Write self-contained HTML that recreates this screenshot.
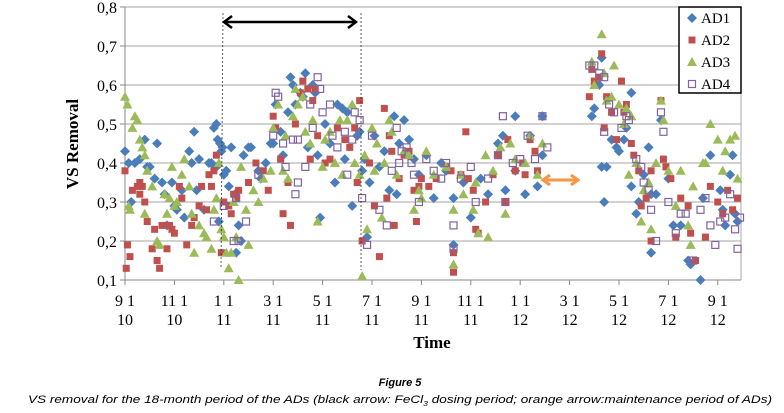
<!DOCTYPE html>
<html><head><meta charset="utf-8"><style>
html,body{margin:0;padding:0;background:#fff;}
svg{display:block;}
</style></head><body>
<svg id="chart" width="784" height="413" viewBox="0 0 784 413" xmlns="http://www.w3.org/2000/svg" font-family="'Liberation Serif', serif">
<g id="grid"></g>
<g id="axes"></g>
<g id="marks"></g>
<g>
<line x1="223" y1="13" x2="221" y2="268" stroke="#333" stroke-width="0.8" stroke-dasharray="2,2"/>
<line x1="361" y1="13" x2="361" y2="270" stroke="#333" stroke-width="0.8" stroke-dasharray="2,2"/>
<line x1="226" y1="22" x2="354" y2="22" stroke="#000" stroke-width="2.5"/>
<polyline points="232,16 224,22 232,28" fill="none" stroke="#000" stroke-width="2.5"/>
<polyline points="348,16 356,22 348,28" fill="none" stroke="#000" stroke-width="2.5"/>
</g>
<g>
<line x1="545" y1="180" x2="576" y2="180" stroke="#f79646" stroke-width="3"/>
<polyline points="550,175 543,180 550,185" fill="none" stroke="#f79646" stroke-width="3"/>
<polyline points="571,175 578,180 571,185" fill="none" stroke="#f79646" stroke-width="3"/>
</g>
<g id="legend">
<rect x="679" y="7" width="62" height="86" fill="#fff" stroke="#000" stroke-width="1.5"/>
</g>
<text transform="translate(78,144) rotate(-90)" text-anchor="middle" font-weight="bold" font-size="17">VS Removal</text>
<text x="432" y="348" text-anchor="middle" font-weight="bold" font-size="17">Time</text>
<text x="400" y="386" text-anchor="middle" font-family="'Liberation Sans', sans-serif" font-style="italic" font-weight="bold" font-size="11">Figure 5</text>
<text x="400" y="403" text-anchor="middle" font-family="'Liberation Sans', sans-serif" font-style="italic" font-size="11" textLength="744" lengthAdjust="spacingAndGlyphs">VS removal for the 18-month period of the ADs (black arrow: FeCl<tspan font-size="7" dy="3">3</tspan><tspan dy="-3"> dosing period; orange arrow:maintenance period of ADs)</tspan></text>
</svg>
<script>
const yTicks=[0.1,0.2,0.3,0.4,0.5,0.6,0.7,0.8];
const yTickLabels=["0,1","0,2","0,3","0,4","0,5","0,6","0,7","0,8"];
const xTicks=[0,2,4,6,8,10,12,14,16,18,20,22,24];
const xTickTop=["9 1","11 1","1 1","3 1","5 1","7 1","9 1","11 1","1 1","3 1","5 1","7 1","9 1"];
const xTickBottom=["10","10","11","11","11","11","11","11","12","12","12","12","12"];
const seriesNames=["AD1","AD2","AD3","AD4"];
const ad1=[[0.0,.43],[0.15,.40],[0.25,.30],[0.4,.40],[0.6,.41],[0.8,.46],[0.9,.39],[1.0,.39],[1.3,.45],[1.2,.36],[1.5,.35],[1.6,.32],[1.7,.24],[1.9,.35],[2.1,.28],[2.0,.29],[2.3,.33],[2.4,.26],[2.6,.43],[2.7,.40],[2.8,.48],[2.9,.33],[3.0,.41],[3.2,.28],[3.4,.40],[3.5,.40],[3.7,.39],[3.8,.25],[3.9,.43],[3.6,.49],[3.7,.50],[3.75,.46],[3.85,.45],[3.95,.44],[4.0,.37],[4.1,.38],[4.2,.34],
[4.3,.44],[4.45,.32],[4.5,.17],[4.6,.24],[4.7,.20],[4.8,.42],[5.0,.44],[5.1,.44],[5.4,.38],[5.5,.36],[5.7,.40],[5.9,.45],[6.1,.55],[6.0,.45],[6.3,.48],[6.4,.42],[6.6,.53],[6.7,.62],[6.8,.60],[6.9,.55],[7.1,.58],[7.3,.63],[7.2,.57],[7.4,.44],[7.6,.60],[7.7,.58],[7.9,.26],[7.8,.42],[8.1,.50],[8.3,.45],[8.6,.55],[8.8,.54],[8.5,.35],[8.9,.41],[9.0,.53],[9.2,.29],[9.4,.47],[9.5,.48],[9.6,.38],
[9.7,.41],[9.8,.21],[9.9,.35],[10.1,.47],[10.3,.39],[10.9,.52],[10.7,.33],[11.0,.32],[11.3,.51],[11.5,.46],[11.7,.41],[11.9,.37],[10.5,.43],[11.1,.45],
[12.2,.42],[12.5,.31],[13.3,.31],[13.3,.19],[13.7,.35],[14.0,.26],[14.7,.32],[15.1,.45],[15.3,.47],[15.4,.33],[15.8,.52],[15.8,.38],[16.2,.32],[16.4,.47],[16.7,.34],[16.9,.52],[16.9,.42],[12.8,.40],[13.0,.38],[14.4,.36],
[18.9,.52],[19.0,.54],[19.2,.60],[19.3,.67],[19.3,.39],[19.4,.30],[19.5,.39],[19.7,.46],[19.9,.44],[20.0,.43],[20.2,.46],[20.3,.49],[20.5,.58],[20.5,.34],[20.7,.27],[20.8,.30],[21.0,.37],[21.2,.44],[21.3,.32],[21.5,.32],[21.3,.17],[21.7,.51],[22.0,.36],[22.2,.24],[22.5,.24],[22.8,.15],[22.9,.14],[23.3,.10],[23.4,.31],[23.7,.42],[24.1,.33],[24.2,.28],[24.3,.24],[24.5,.37],[24.6,.42],[24.7,.27],[24.8,.25]];
const ad2=[[0.0,.38],[0.05,.13],[0.1,.19],[0.2,.16],[0.3,.33],[0.5,.34],[0.6,.35],[0.6,.32],[0.7,.34],[0.8,.30],[0.9,.25],[1.1,.18],[1.2,.23],[1.3,.15],[1.4,.13],[1.5,.24],[1.7,.18],[1.8,.24],[1.9,.23],[2.0,.22],[2.2,.34],[2.3,.31],[2.5,.19],[2.7,.24],[2.8,.26],[3.0,.29],[3.1,.34],[3.3,.28],[3.4,.37],[3.5,.34],[3.6,.38],[3.7,.42],[3.9,.17],[4.0,.30],
[4.2,.29],[4.3,.27],[4.4,.32],[4.5,.31],[4.6,.33],[5.0,.35],[5.3,.40],[5.6,.38],[5.8,.33],[6.0,.52],[6.1,.49],[6.3,.41],[6.4,.27],[6.6,.35],[6.7,.24],[6.9,.50],[7.1,.58],[7.2,.61],[7.4,.59],[7.5,.41],[7.6,.56],[7.7,.59],[7.8,.47],[8.1,.40],[8.3,.41],[8.6,.49],[8.9,.46],[9.1,.44],[9.3,.49],[9.5,.56],[9.4,.35],[9.6,.20],
[9.9,.40],[10.1,.29],[10.3,.16],[10.5,.54],[10.7,.47],[10.8,.43],[10.9,.24],[11.1,.36],[11.3,.42],[11.5,.43],[11.7,.33],[11.8,.25],[11.9,.34],[10.6,.31],
[12.0,.36],[12.3,.34],[12.6,.36],[13.0,.39],[13.2,.38],[13.3,.17],[13.3,.12],[13.6,.37],[13.9,.36],[14.1,.33],[14.2,.23],[14.3,.22],[14.6,.30],[14.9,.37],[15.1,.42],[15.4,.30],[15.5,.46],[15.8,.38],[16.1,.40],[16.2,.37],[16.4,.46],[16.7,.38],[13.8,.48],[16.6,.43],
[18.8,.57],[18.9,.64],[19.0,.61],[19.2,.62],[19.3,.68],[19.4,.49],[19.5,.57],[19.7,.53],[19.9,.46],[20.1,.61],[20.2,.53],[20.3,.55],[20.5,.45],[20.6,.42],[20.8,.38],[20.9,.29],[21.1,.31],[21.3,.38],[21.3,.20],[21.7,.56],[21.8,.41],[21.9,.39],[22.1,.36],[22.3,.21],[22.5,.31],[22.8,.29],[22.9,.22],[23.1,.15],[23.5,.21],[23.7,.34],[24.0,.30],[24.2,.27],[24.4,.33],[24.6,.28],[24.8,.31]];
const ad3=[[0.0,.57],[0.1,.55],[0.15,.29],[0.2,.28],[0.3,.49],[0.4,.52],[0.5,.51],[0.6,.46],[0.7,.44],[0.8,.27],[0.8,.42],[0.9,.38],[1.1,.34],[1.3,.20],[1.4,.19],[1.6,.32],[1.7,.27],[1.8,.31],[1.9,.39],[2.0,.29],[2.1,.30],[2.3,.37],[2.4,.41],[2.6,.34],[2.7,.27],[2.8,.17],[3.0,.24],[3.2,.22],[3.3,.21],[3.5,.18],[3.6,.28],[3.7,.31],[3.8,.40],[3.9,.23],[4.0,.21],[4.1,.17],
[4.2,.13],[4.3,.17],[4.4,.30],[4.5,.21],[4.6,.10],[4.7,.39],[4.9,.28],[5.0,.19],[5.2,.33],[5.4,.30],[5.6,.36],[5.9,.38],[6.0,.49],[6.2,.55],[6.4,.38],[6.5,.47],[6.6,.36],[6.8,.52],[6.9,.59],[7.0,.55],[7.2,.57],[7.3,.48],[7.5,.45],[7.6,.51],[7.8,.25],[8.0,.39],[8.1,.46],[8.3,.48],[8.5,.40],[8.7,.51],[8.8,.37],[9.0,.51],[9.2,.55],[9.3,.40],[9.5,.37],[9.6,.11],
[9.7,.42],[9.8,.23],[10.0,.49],[10.1,.38],[10.2,.45],[10.4,.26],[10.7,.51],[10.8,.48],[11.0,.37],[11.3,.43],[11.5,.42],[11.7,.28],[11.9,.33],[10.5,.40],
[12.0,.31],[12.2,.43],[12.5,.37],[13.0,.39],[13.3,.14],[13.3,.28],[13.6,.37],[13.7,.32],[14.1,.28],[14.2,.35],[14.3,.22],[14.6,.42],[14.7,.21],[14.9,.38],[15.2,.44],[15.4,.27],[15.6,.45],[15.8,.41],[16.2,.40],[16.4,.47],[16.7,.37],[16.9,.45],
[18.9,.66],[19.0,.60],[19.3,.73],[19.4,.63],[19.5,.56],[19.7,.57],[19.8,.65],[20.0,.55],[20.2,.50],[20.3,.54],[20.5,.52],[20.4,.37],[20.7,.40],[20.9,.25],[21.0,.33],[21.2,.35],[21.3,.23],[21.5,.40],[21.7,.56],[21.8,.51],[22.0,.38],[22.3,.29],[22.5,.38],[22.8,.24],[22.9,.19],[23.0,.34],[23.4,.40],[23.5,.40],[23.7,.50],[24.0,.46],[24.2,.38],[24.5,.46],[24.7,.47],[24.8,.36],[24.3,.43]];
const ad4=[[3.6,.25],[4.0,.29],[4.4,.20],
[4.5,.31],[4.6,.20],[4.9,.25],[5.4,.37],[6.0,.47],[6.1,.58],[6.2,.57],[6.4,.45],[6.5,.39],[6.8,.46],[6.9,.32],[7.0,.35],[7.0,.46],[7.3,.39],[7.5,.55],[7.6,.49],[7.8,.62],[7.9,.59],[8.0,.53],[8.3,.55],[8.4,.47],[8.6,.44],[8.9,.48],[9.0,.37],[9.2,.46],[9.3,.53],[9.5,.51],[9.6,.31],
[9.8,.19],[10.0,.47],[10.3,.28],[10.6,.24],[10.8,.38],[11.0,.49],[11.2,.43],[11.4,.44],[11.6,.40],[11.7,.37],[11.9,.30],[11.1,.40],
[12.2,.41],[12.5,.38],[12.8,.36],[13.0,.40],[13.3,.24],[13.3,.18],[13.6,.36],[14.0,.39],[14.2,.30],[14.7,.36],[15.1,.42],[15.3,.52],[15.4,.30],[15.7,.40],[16.0,.41],[16.3,.47],[16.6,.41],[16.9,.52],[17.1,.44],
[18.8,.65],[19.0,.65],[19.2,.63],[19.4,.62],[19.4,.48],[19.6,.55],[19.8,.53],[20.1,.49],[20.3,.52],[20.4,.51],[20.7,.41],[20.9,.39],[21.0,.35],[21.2,.33],[21.3,.28],[21.5,.20],[21.7,.53],[21.8,.48],[22.0,.30],[22.3,.22],[22.5,.27],[22.7,.27],[23.0,.15],[23.3,.28],[23.5,.31],[23.7,.24],[23.9,.19],[24.1,.25],[24.3,.26],[24.5,.32],[24.7,.23],[24.8,.18],[24.9,.26]];

const NS="http://www.w3.org/2000/svg";
const X0=125,X1=741,Y0=280,Y1=7;
const xMin=0,xMax=24.94,yMin=0.1,yMax=0.8;
function xs(v){return X0+(v-xMin)/(xMax-xMin)*(X1-X0);}
function ys(v){return Y0-(v-yMin)/(yMax-yMin)*(Y0-Y1);}
function mk(tag,attrs,parent){const e=document.createElementNS(NS,tag);for(const k in attrs)e.setAttribute(k,attrs[k]);parent.appendChild(e);return e;}
const grid=document.getElementById('grid'),axes=document.getElementById('axes'),marks=document.getElementById('marks'),legend=document.getElementById('legend');

yTicks.forEach((t,i)=>{
  if(i>0){const g=mk('line',{x1:X0,x2:X1,y1:ys(t),y2:ys(t),stroke:'#a6a6a6','stroke-width':1},grid);
  
  }
  const tk=mk('line',{x1:X0-5,x2:X0,y1:ys(t),y2:ys(t),stroke:'#888'},axes);
  
  
  const tx=mk('text',{x:X0-8,y:ys(t)+6,'text-anchor':'end','font-size':16},axes);
  tx.textContent=yTickLabels[i];
  
  
});
const la=mk('line',{x1:X0,x2:X0,y1:Y1,y2:Y0,stroke:'#888'},axes);


const ra=mk('line',{x1:X1,x2:X1,y1:Y1,y2:Y0,stroke:'#aaa'},axes);


const ba=mk('line',{x1:X0,x2:X1,y1:Y0,y2:Y0,stroke:'#888'},axes);


xTicks.forEach((t,i)=>{
  const tk=mk('line',{x1:xs(t),x2:xs(t),y1:Y0,y2:Y0+5,stroke:'#888'},axes);
  
  
  const a=mk('text',{x:xs(t),y:306,'text-anchor':'middle','font-size':16},axes);
  a.textContent=xTickTop[i];
  
  
  const b=mk('text',{x:xs(t),y:325,'text-anchor':'middle','font-size':16},axes);
  b.textContent=xTickBottom[i];
  
  
});

function marker(kind,cx,cy,parent){
  let e;
  if(kind===0){e=mk('polygon',{points:`${cx},${cy-5} ${cx+5},${cy} ${cx},${cy+5} ${cx-5},${cy}`,fill:'#4a7ebb'},parent);}
  else if(kind===1){e=mk('rect',{x:cx-3.5,y:cy-3.5,width:7,height:7,fill:'#c0504d'},parent);}
  else if(kind===2){e=mk('polygon',{points:`${cx},${cy-5} ${cx+5},${cy+4} ${cx-5},${cy+4}`,fill:'#9bbb59'},parent);}
  else {e=mk('rect',{x:cx-3.5,y:cy-3.5,width:7,height:7,fill:'none',stroke:'#8064a2','stroke-width':1.2},parent);}
  return e;
}
const allSeries=[ad1,ad2,ad3,ad4];
allSeries.forEach((s,k)=>{
  const g=mk('g',{},marks);
  
  
  s.forEach(p=>{
    const e=marker(k,xs(p[0]),ys(p[1]),g);
    
    
  });
});
seriesNames.forEach((n,k)=>{
  const cy=18+k*22;
  const g=mk('g',{},legend);
  
  
  marker(k,692,cy,g);
  const t=mk('text',{x:701,y:cy+5,'font-size':15},g);
  t.textContent=n;
});
</script>
</body></html>
